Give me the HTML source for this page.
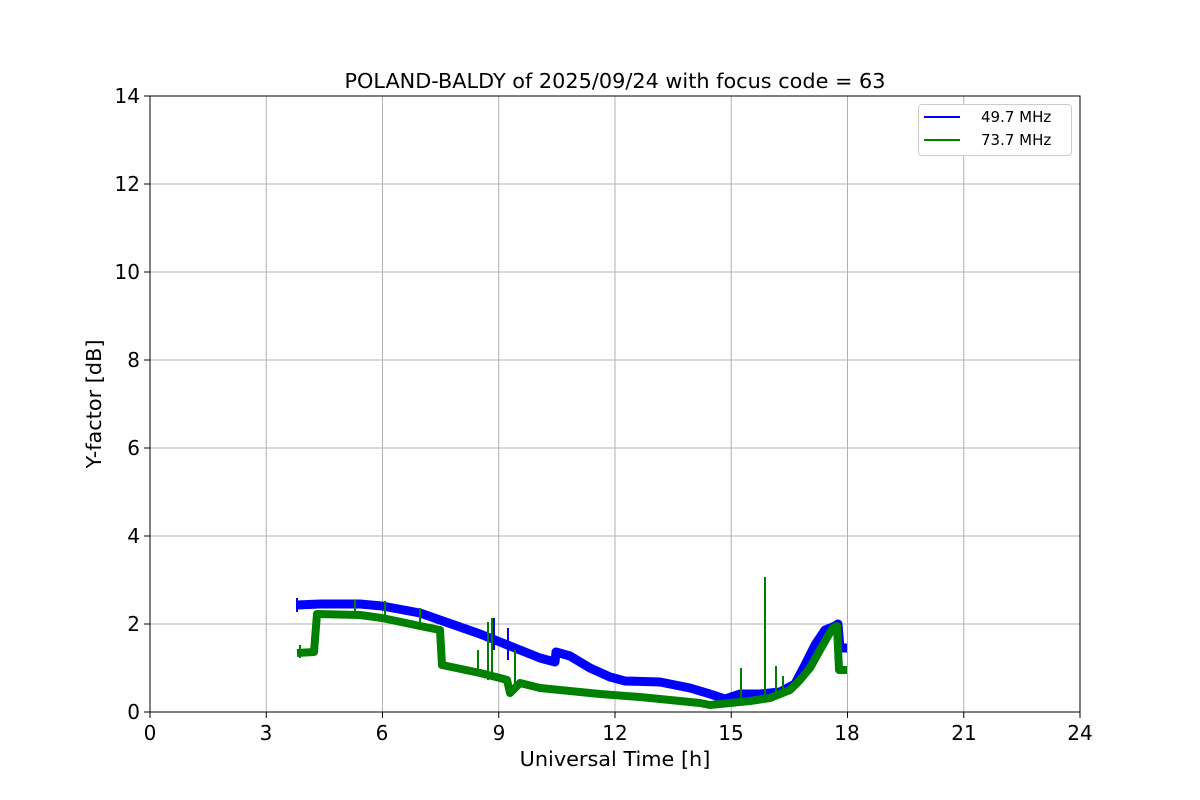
<!DOCTYPE html>
<html><head><meta charset="utf-8"><style>body{margin:0;background:#fff}svg{display:block}text{font-family:"DejaVu Sans","Liberation Sans",sans-serif}</style></head><body>
<svg width="1200" height="800" viewBox="0 0 1200 800">
<g stroke="#b0b0b0" stroke-width="1">
<line x1="266.25" y1="96" x2="266.25" y2="712"/><line x1="382.5" y1="96" x2="382.5" y2="712"/><line x1="498.75" y1="96" x2="498.75" y2="712"/><line x1="615" y1="96" x2="615" y2="712"/><line x1="731.25" y1="96" x2="731.25" y2="712"/><line x1="847.5" y1="96" x2="847.5" y2="712"/><line x1="963.75" y1="96" x2="963.75" y2="712"/>
<line x1="150" y1="624" x2="1080" y2="624"/><line x1="150" y1="536" x2="1080" y2="536"/><line x1="150" y1="448" x2="1080" y2="448"/><line x1="150" y1="360" x2="1080" y2="360"/><line x1="150" y1="272" x2="1080" y2="272"/><line x1="150" y1="184" x2="1080" y2="184"/>
</g>
<polyline fill="none" stroke="#0000ff" stroke-width="9" stroke-linejoin="round" stroke-linecap="butt" points="297,605 320,604 360,604 382,606 420,613 460,627 480,634 500,642 520,650 540,658 555,662 556,652 570,656 590,668 610,677 625,681 660,682 690,688 710,694 725,699 740,694 760,694 780,692 795,684 805,665 815,645 825,630 835,626 838,624 840,648 847,648"/>
<path fill="none" stroke="#0000ff" stroke-width="2" d="M494,650V618M508,660V628M297,612V598"/>
<polyline fill="none" stroke="#008000" stroke-width="8" stroke-linejoin="round" stroke-linecap="butt" points="297,653 314,652 317,614 360,615 382,618 420,626 440,630 442,665 480,673 500,678 507,680 510,693 520,683 540,688 560,690 600,694 640,697 680,701 700,703 710,705 730,703 750,701 770,698 790,690 800,680 810,668 820,650 828,636 833,628 837,626 839,670 847,670"/>
<path fill="none" stroke="#008000" stroke-width="2" d="M478,675V650M488,680V622M492,680V618M515,690V650M741,704V668M765,700V577M776,698V666M783,694V676M355,616V600M385,620V601M420,628V608M300,658V645"/>
<rect x="150" y="96" width="930" height="616" fill="none" stroke="#000" stroke-width="1"/>
<g stroke="#000"><line x1="150" y1="712" x2="150" y2="718"/><line x1="266.25" y1="712" x2="266.25" y2="718"/><line x1="382.5" y1="712" x2="382.5" y2="718"/><line x1="498.75" y1="712" x2="498.75" y2="718"/><line x1="615" y1="712" x2="615" y2="718"/><line x1="731.25" y1="712" x2="731.25" y2="718"/><line x1="847.5" y1="712" x2="847.5" y2="718"/><line x1="963.75" y1="712" x2="963.75" y2="718"/><line x1="1080" y1="712" x2="1080" y2="718"/>
<line x1="144" y1="712" x2="150" y2="712"/><line x1="144" y1="624" x2="150" y2="624"/><line x1="144" y1="536" x2="150" y2="536"/><line x1="144" y1="448" x2="150" y2="448"/><line x1="144" y1="360" x2="150" y2="360"/><line x1="144" y1="272" x2="150" y2="272"/><line x1="144" y1="184" x2="150" y2="184"/><line x1="144" y1="96" x2="150" y2="96"/></g>
<g font-size="20" text-anchor="middle"><text x="150" y="740">0</text><text x="266" y="740">3</text><text x="382" y="740">6</text><text x="499" y="740">9</text><text x="615" y="740">12</text><text x="731" y="740">15</text><text x="847" y="740">18</text><text x="964" y="740">21</text><text x="1080" y="740">24</text></g>
<g font-size="20" text-anchor="end"><text x="140" y="719">0</text><text x="140" y="631">2</text><text x="140" y="543">4</text><text x="140" y="455">6</text><text x="140" y="367">8</text><text x="140" y="279">10</text><text x="140" y="191">12</text><text x="140" y="103">14</text></g>
<text x="615" y="766" font-size="20.8" text-anchor="middle">Universal Time [h]</text>
<text x="101" y="404" font-size="20.8" text-anchor="middle" transform="rotate(-90 101 404)">Y-factor [dB]</text>
<text x="615" y="88" font-size="20.8" text-anchor="middle">POLAND-BALDY of 2025/09/24 with focus code = 63</text>
<rect x="918.5" y="104.5" width="153" height="51" rx="3" fill="#fff" stroke="#ccc"/>
<line x1="924" y1="117" x2="960" y2="117" stroke="#0000ff" stroke-width="2"/>
<line x1="924" y1="140" x2="960" y2="140" stroke="#008000" stroke-width="2"/>
<text x="981" y="122" font-size="15">49.7 MHz</text>
<text x="981" y="145" font-size="15">73.7 MHz</text>
</svg>
</body></html>
